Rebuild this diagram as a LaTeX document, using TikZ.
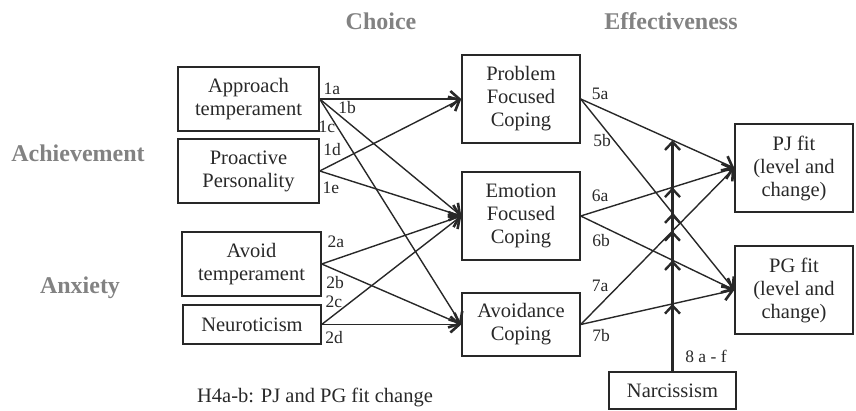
\documentclass[tikz,border=0pt]{standalone}
\usepackage{fontspec}
\setmainfont{Liberation Serif}
\usetikzlibrary{arrows.meta}
\definecolor{ink}{RGB}{40,40,40}
\definecolor{headgray}{RGB}{130,130,130}
\tikzset{
  box/.style={draw=ink, line width=1.4pt, align=center, inner sep=0pt,
    text=ink, font=\fontsize{20.5}{23}\selectfont},
  lab/.style={text=ink, inner sep=0pt, font=\fontsize{17.5}{20}\selectfont},
  head/.style={text=headgray, inner sep=0pt, font=\fontsize{24}{27}\selectfont\bfseries},
  path/.style={draw=ink, line width=1.4pt, -{Straight Barb[length=9pt,width=16pt,line width=2.6pt]}},
  mod/.style={draw=ink, line width=2.6pt, -{Straight Barb[length=8pt,width=15pt,line width=2.4pt]}}
}
\begin{document}
\begin{tikzpicture}[x=1pt,y=-1pt]
\useasboundingbox (0,0) rectangle (856,411);

% column headers and row labels
\node[head] (hchoice) at (381,21) {Choice};
\node[head] (heff) at (671,21) {Effectiveness};
\node[head] (hach) at (78,153) {Achievement};
\node[head] (hanx) at (80,288) {Anxiety};

% predictors
\node[box, minimum width=141pt, minimum height=64pt] (app) at (248.5,99) {Approach\\temperament};
\node[box, minimum width=141pt, minimum height=64pt] (pro) at (248.5,171) {Proactive\\Personality};
\node[box, minimum width=139pt, minimum height=64pt] (avo) at (251.5,264) {Avoid\\temperament};
\node[box, minimum width=138pt, minimum height=39pt] (neu) at (252,324.5) {Neuroticism};

% coping strategies
\node[box, minimum width=118pt, minimum height=88pt] (pfc) at (521,99) {Problem\\Focused\\Coping};
\node[box, minimum width=118pt, minimum height=88pt] (efc) at (521,216) {Emotion\\Focused\\Coping};
\node[box, minimum width=118pt, minimum height=63pt] (avc) at (521,324.5) {Avoidance\\Coping};

% outcomes
\node[box, minimum width=118pt, minimum height=88pt] (pj) at (794,168) {PJ fit\\(level and\\change)};
\node[box, minimum width=118pt, minimum height=88pt] (pg) at (794,290) {PG fit\\(level and\\change)};

% moderator
\node[box, minimum width=127pt, minimum height=37pt] (nar) at (672.5,390.5) {Narcissism};
\coordinate (ntop) at (nar.north |- 0,60);

% choice paths
\draw[path] (app.east) -- (pfc.west);
\draw[path] (app.east) -- (efc.west);
\draw[path] (app.east) -- (avc.west);
\draw[path] (pro.east) -- (pfc.west);
\draw[path] (pro.east) -- (efc.west);
\draw[path] (avo.east) -- (efc.west);
\draw[path] (avo.east) -- (avc.west);
\draw[path] (neu.east) -- (efc.west);
\draw[path] (neu.east) -- (avc.west);

% effectiveness paths
\draw[path] (pfc.east) -- (pj.west);
\draw[path] (pfc.east) -- (pg.west);
\draw[path] (efc.east) -- (pj.west);
\draw[path] (efc.east) -- (pg.west);
\draw[path] (avc.east) -- (pj.west);
\draw[path] (avc.east) -- (pg.west);

% moderation by narcissism
\draw[mod] (nar.north) -- (intersection of pfc.east--pj.west and nar.north--ntop);
\draw[mod] (nar.north) -- (intersection of efc.east--pj.west and nar.north--ntop);
\draw[mod] (nar.north) -- (intersection of pfc.east--pg.west and nar.north--ntop);
\draw[mod] (nar.north) -- (intersection of avc.east--pj.west and nar.north--ntop);
\draw[mod] (nar.north) -- (intersection of efc.east--pg.west and nar.north--ntop);
\draw[mod] (nar.north) -- (intersection of avc.east--pg.west and nar.north--ntop);

% path labels
\node[lab] (l1a) at (332,89) {1a};
\node[lab] (l1b) at (347,108) {1b};
\node[lab] (l1c) at (327,127) {1c};
\node[lab] (l1d) at (332,150) {1d};
\node[lab] (l1e) at (331,188) {1e};
\node[lab] (l2a) at (336,242) {2a};
\node[lab] (l2b) at (335,283) {2b};
\node[lab] (l2c) at (334,302) {2c};
\node[lab] (l2d) at (334,338) {2d};
\node[lab] (l5a) at (600,94) {5a};
\node[lab] (l5b) at (602,141) {5b};
\node[lab] (l6a) at (600,196) {6a};
\node[lab] (l6b) at (601,241) {6b};
\node[lab] (l7a) at (600,286) {7a};
\node[lab] (l7b) at (601,336) {7b};
\node[lab] (l8) at (706,356) {8 a - f};

\node[lab, font=\fontsize{20.5}{23}\selectfont] (h4) at (315,397) {H4a-b: PJ and PG fit change};
\end{tikzpicture}
\end{document}
